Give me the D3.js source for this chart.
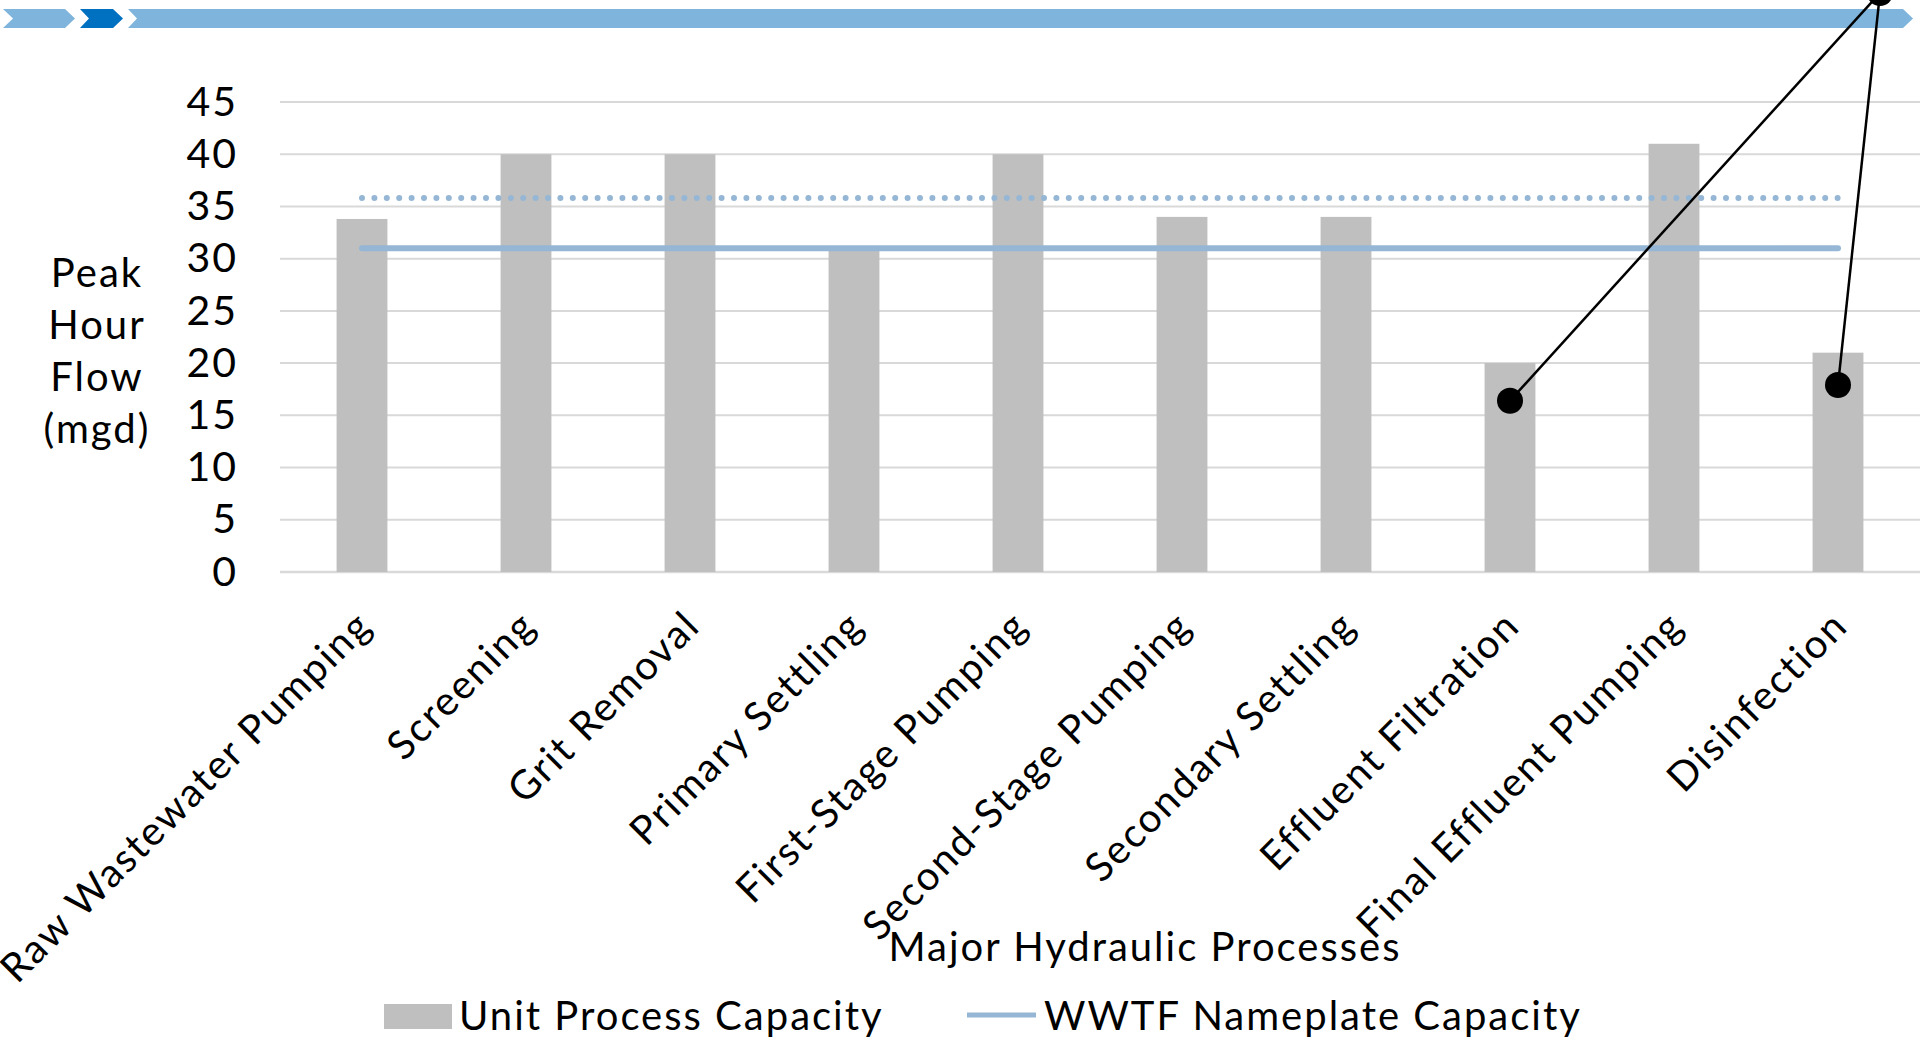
<!DOCTYPE html>
<html>
  <head>
    <title>Major Hydraulic Processes</title>
    <style>
      body { margin: 0; background: #fff; }
      svg { display: block; font-family: Lato, "Noto Sans", sans-serif; }
      svg text { letter-spacing: 2px; }
    </style>
  </head>
  <body>
    <svg class="chart"></svg>
    <script type="text/javascript" src="https://d3js.org/d3.v7.min.js"></script>
    <script type="text/javascript">

var width = 1920
var height = 1041

// data
var processes = ["Raw Wastewater Pumping", "Screening", "Grit Removal", "Primary Settling",
    "First-Stage Pumping", "Second-Stage Pumping", "Secondary Settling",
    "Effluent Filtration", "Final Effluent Pumping", "Disinfection"]
var capacity = [33.8, 40, 40, 31, 40, 34, 34, 20, 41, 21]
var nameplate = 31
var nameplateDotted = 35.8
var yTicks = [0, 5, 10, 15, 20, 25, 30, 35, 40, 45]
var calloutAt = ["Effluent Filtration", "Disinfection"]
var calloutValues = [16.4, 17.9]

var barColor = "#bfbfbf"
var lineColor = "#95b7d5"
var fontSize = 40

var svg = d3.select(".chart")
    .attr("width", width)
    .attr("height", height)

var margin = {top: 102, right: 0, bottom: 469, left: 280}

var x = d3.scaleBand()
    .domain(processes)
    .range([margin.left, width - margin.right])
    .paddingInner(0.69)
    .paddingOuter(0.345)

var y = d3.scaleLinear()
    .domain([0, 45])
    .range([height - margin.bottom, margin.top])

// banner chevrons across the top
function chevron(x0, x1, notch, tip) {
    var top = 9, bot = 28, mid = (top + bot) / 2
    return [[x0, top], [x1 - tip, top], [x1, mid], [x1 - tip, bot], [x0, bot], [x0 + notch, mid]]
}
var banner = [
    {pts: chevron(3, 75, 10, 10), fill: "#7fb5dc"},
    {pts: chevron(80, 123, 9, 10), fill: "#0070c0"},
    {pts: chevron(128, 1913, 9, 10), fill: "#7fb5dc"}
]
svg.append("g").selectAll("polygon")
    .data(banner)
    .enter().append("polygon")
    .attr("points", function(d) { return d.pts.map(function(p) { return p.join(","); }).join(" "); })
    .attr("fill", function(d) { return d.fill; })

// grid
svg.append("g").attr("class", "grid")
    .selectAll("line")
    .data(yTicks)
    .enter().append("line")
    .attr("x1", margin.left)
    .attr("x2", width - margin.right)
    .attr("y1", function(d) { return y(d); })
    .attr("y2", function(d) { return y(d); })
    .attr("stroke", "#d9d9d9")
    .attr("stroke-width", function(d) { return d === 0 ? 2.5 : 2; })

// y axis labels
var yAxis = svg.append("g")
    .attr("transform", "translate(" + (margin.left - 42) + ",0)")
    .call(d3.axisLeft(y).tickValues(yTicks).tickSize(0).tickPadding(0))
yAxis.select(".domain").remove()
yAxis.selectAll("text")
    .attr("font-size", 41)
    .attr("font-family", "Lato, 'Noto Sans', sans-serif")
    .attr("fill", "#000")

// bars
svg.append("g").selectAll("rect")
    .data(capacity)
    .enter().append("rect")
    .attr("x", function(d, i) { return x(processes[i]); })
    .attr("y", function(d) { return y(d); })
    .attr("width", x.bandwidth())
    .attr("height", function(d) { return y(0) - y(d); })
    .attr("fill", barColor)

// nameplate lines
var first = x(processes[0]) + x.bandwidth() / 2
var last = x(processes[processes.length - 1]) + x.bandwidth() / 2
svg.append("line")
    .attr("x1", first).attr("x2", last)
    .attr("y1", y(nameplateDotted)).attr("y2", y(nameplateDotted))
    .attr("stroke", lineColor)
    .attr("stroke-width", 6)
    .attr("stroke-linecap", "round")
    .attr("stroke-dasharray", "0,12.4")
svg.append("line")
    .attr("x1", first).attr("x2", last)
    .attr("y1", y(nameplate)).attr("y2", y(nameplate))
    .attr("stroke", lineColor)
    .attr("stroke-width", 6)
    .attr("stroke-linecap", "round")

// x labels, rotated
svg.append("g").selectAll("text")
    .data(processes)
    .enter().append("text")
    .attr("transform", function(d) {
        return "translate(" + (x(d) + x.bandwidth() / 2 + 12) + "," + (y(0) + 56) + ")rotate(-45)";
    })
    .attr("text-anchor", "end")
    .attr("font-size", fontSize)
    .attr("fill", "#000")
    .text(function(d) { return d; })

// axis titles
var yTitle = svg.append("text")
    .attr("text-anchor", "middle")
    .attr("font-size", fontSize)
    .attr("fill", "#000")
yTitle.selectAll("tspan")
    .data(["Peak", "Hour", "Flow", "(mgd)"])
    .enter().append("tspan")
    .attr("x", 97)
    .attr("y", function(d, i) { return 287 + i * 52; })
    .text(function(d) { return d; })

svg.append("text")
    .attr("x", 1145)
    .attr("y", 961)
    .attr("text-anchor", "middle")
    .attr("font-size", fontSize)
    .attr("fill", "#000")
    .text("Major Hydraulic Processes")

// callout
var hub = {x: width - 40, y: -7}
var callout = svg.append("g")
calloutAt.forEach(function(name, i) {
    var cx = x(name) + x.bandwidth() / 2
    var cy = y(calloutValues[i])
    callout.append("line")
        .attr("x1", cx).attr("y1", cy)
        .attr("x2", hub.x).attr("y2", hub.y)
        .attr("stroke", "#000")
        .attr("stroke-width", 2.5)
    callout.append("circle")
        .attr("cx", cx).attr("cy", cy).attr("r", 13)
        .attr("fill", "#000")
})
callout.append("circle")
    .attr("cx", hub.x).attr("cy", hub.y).attr("r", 13)
    .attr("fill", "#000")

// legend
var legend = svg.append("g")
legend.append("rect")
    .attr("x", 384).attr("y", 1004)
    .attr("width", 68).attr("height", 25)
    .attr("fill", barColor)
legend.append("text")
    .attr("x", 459).attr("y", 1030)
    .attr("font-size", fontSize)
    .text("Unit Process Capacity")
legend.append("line")
    .attr("x1", 967).attr("x2", 1036)
    .attr("y1", 1015).attr("y2", 1015)
    .attr("stroke", lineColor)
    .attr("stroke-width", 5)
legend.append("text")
    .attr("x", 1044).attr("y", 1030)
    .attr("font-size", fontSize)
    .text("WWTF Nameplate Capacity")

    </script>
  </body>
</html>
